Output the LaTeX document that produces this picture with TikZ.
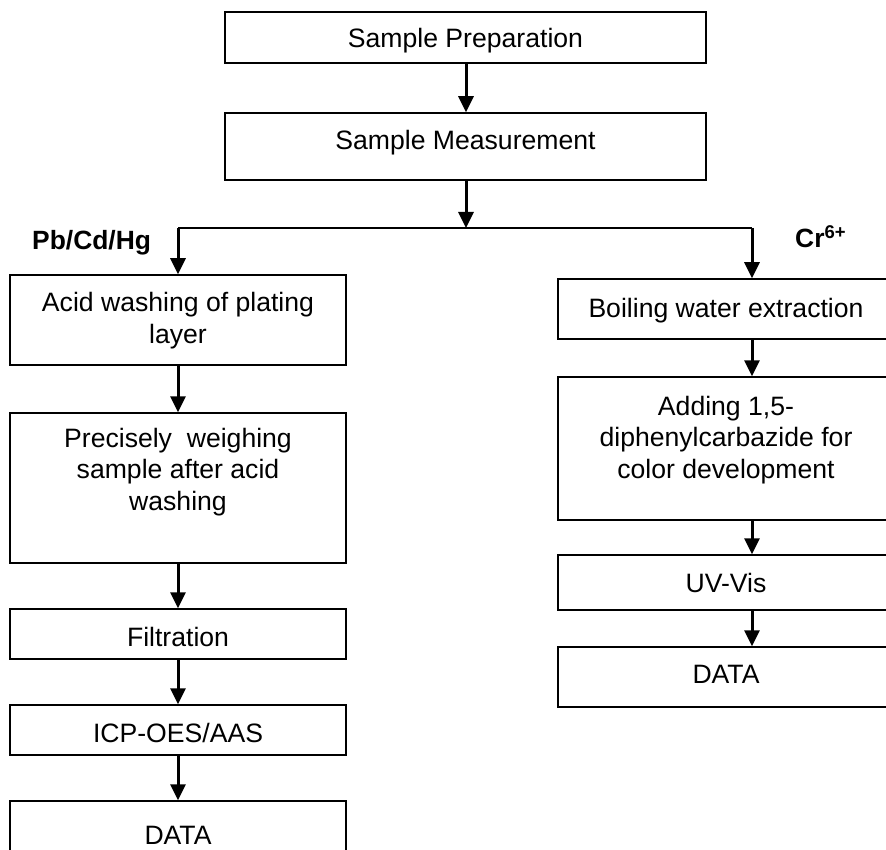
\documentclass[tikz,border=0pt]{standalone}
\usepackage{fontspec}
\setmainfont{Liberation Sans}
\usetikzlibrary{arrows.meta}
\begin{document}
\begin{tikzpicture}[x=1pt,y=-1pt,
  box/.style={draw=black,line width=1.5pt,rectangle,inner sep=0pt},
  txt/.style={inner sep=0pt,anchor=base,align=center,font=\fontsize{26.6}{31.3}\selectfont},
  lbl/.style={inner sep=0pt,anchor=base west,font=\fontsize{26.4}{31}\selectfont\bfseries},
  arr/.style={line width=3pt,-{Triangle[length=16pt,width=15pt]}},
  ln/.style={line width=2pt}]
\useasboundingbox (0,0) rectangle (886,850);
\clip (0,0) rectangle (886,850);
% column x positions
\coordinate (lx) at (178,0);
\coordinate (rx) at (752,0);
\coordinate (mx) at (466,0);
% top boxes
\node[box,minimum width=481pt,minimum height=51pt] (prep) at (465.5,37.5) {};
\node[txt] (tprep) at (465.5,48) {Sample Preparation};
\node[box,minimum width=481pt,minimum height=67pt] (meas) at (465.5,146.5) {};
\node[txt] (tmeas) at (465.5,150) {Sample Measurement};
% left column
\node[box,minimum width=336pt,minimum height=90pt] (l1) at (178,320) {};
\node[txt] (tl1) at (178,343) {Acid washing of plating\\layer};
\node[box,minimum width=336pt,minimum height=150pt] (l2) at (178,488) {};
\node[txt] (tl2) at (178,510) {Precisely\ \ weighing\\sample after acid\\washing};
\node[box,minimum width=336pt,minimum height=50pt] (l3) at (178,634) {};
\node[txt] (tl3) at (178,646) {Filtration};
\node[box,minimum width=336pt,minimum height=50pt] (l4) at (178,730) {};
\node[txt] (tl4) at (178,742) {ICP-OES/AAS};
\node[box,minimum width=336pt,minimum height=60pt] (l5) at (178,831) {};
\node[txt] (tl5) at (178,844) {DATA};
% right column
\node[box,minimum width=336pt,minimum height=60pt] (r1) at (726,309) {};
\node[txt] (tr1) at (726,317) {Boiling water extraction};
\node[box,minimum width=336pt,minimum height=143pt] (r2) at (726,448.5) {};
\node[txt] (tr2) at (726,478) {Adding 1,5-\\diphenylcarbazide for\\color development};
\node[box,minimum width=336pt,minimum height=55pt] (r3) at (726,582.5) {};
\node[txt] (tr3) at (726,592) {UV-Vis};
\node[box,minimum width=336pt,minimum height=60pt] (r4) at (726,677) {};
\node[txt] (tr4) at (726,683) {DATA};
% labels
\node[lbl] (pb) at (32,250) {Pb/Cd/Hg};
\node[lbl] (cr) at (795,248) {Cr\textsuperscript{6+}};
% splitter
\coordinate (split) at (466,228);
\coordinate (sl) at (178,228);
\coordinate (sr) at (752,228);
% connectors
\draw[arr] (prep.south -| mx) -- (meas.north -| mx);
\draw[arr] (meas.south -| mx) -- (split);
\draw[ln] (sl) -- (sr);
\draw[arr] (sl) -- (l1.north -| lx);
\draw[arr] (sr) -- (r1.north -| rx);
\draw[arr] (l1.south -| lx) -- (l2.north -| lx);
\draw[arr] (l2.south -| lx) -- (l3.north -| lx);
\draw[arr] (l3.south -| lx) -- (l4.north -| lx);
\draw[arr] (l4.south -| lx) -- (l5.north -| lx);
\draw[arr] (r1.south -| rx) -- (r2.north -| rx);
\draw[arr] (r2.south -| rx) -- (r3.north -| rx);
\draw[arr] (r3.south -| rx) -- (r4.north -| rx);
\end{tikzpicture}
\end{document}
